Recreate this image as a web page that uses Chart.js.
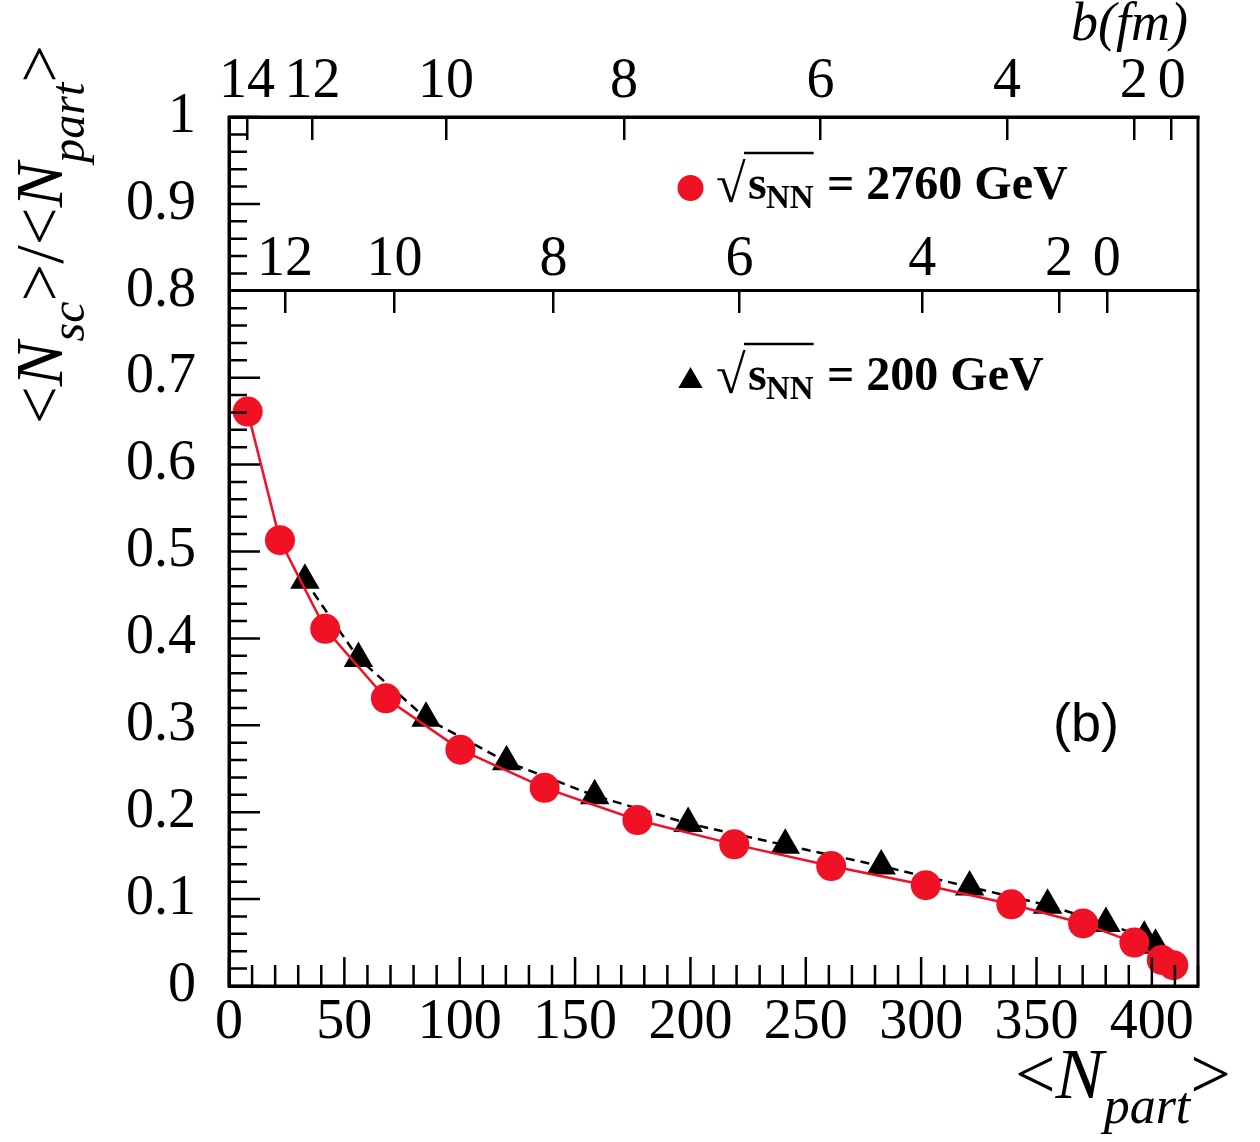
<!DOCTYPE html>
<html>
<head>
<meta charset="utf-8">
<title>Nsc / Npart versus Npart</title>
<script src="https://cdn.jsdelivr.net/npm/chart.js@4.4.1/dist/chart.umd.min.js"></script>
<style>
  html, body { margin: 0; padding: 0; background: #fff; }
  #wrap { width: 1260px; height: 1142px; }
</style>
</head>
<body>
<div id="wrap"><canvas id="myChart" width="1260" height="1142"></canvas></div>
<script>
// sqrt(s_NN) = 2760 GeV (red circles, solid line)
var npart2760 = [8.1, 22.1, 41.7, 68.0, 100.3, 136.8, 177.0, 219.0, 261.0, 302.0, 339.1, 370.2, 392.4, 404.3, 409.3];
var ratio2760 = [0.661, 0.513, 0.411, 0.331, 0.272, 0.228, 0.191, 0.163, 0.138, 0.116, 0.094, 0.072, 0.050, 0.030, 0.024];

// sqrt(s_NN) = 200 GeV (black triangles, dashed line)
var npart200 = [32.9, 56.1, 85.4, 120.3, 158.5, 199.0, 241.1, 282.7, 321.0, 354.8, 380.1, 396.7, 401.6];
var ratio200 = [0.467, 0.377, 0.308, 0.258, 0.219, 0.187, 0.162, 0.138, 0.114, 0.093, 0.072, 0.056, 0.047];

// impact parameter b (fm) axes and where they sit in Npart
var bTicks2760 = [14, 12, 10, 8, 6, 4, 2, 0];
var bNpart2760 = [7.8, 36.2, 94.1, 171.2, 256.4, 337.2, 392.2, 408.6];
var bTicks200 = [12, 10, 8, 6, 4, 2, 0];
var bNpart200 = [24.3, 71.7, 140.7, 221.3, 300.5, 359.7, 380.5];

var red = 'rgb(240,17,36)';
var serif = "'Liberation Serif', 'Times New Roman', serif";
var tickFont = { family: serif, size: 56 };

function drawRuns(ctx, x, y, runs) {
    runs.forEach(function (r) {
        ctx.font = r.font;
        ctx.fillText(r.t, x, y + (r.dy || 0));
        x += ctx.measureText(r.t).width;
    });
    return x;
}

function sqrtLabel(ctx, y, energy) {
    ctx.font = '54px ' + serif;
    ctx.fillText('\u221A', 716, y + 3);
    ctx.font = 'bold 48px ' + serif;
    ctx.fillText('s', 748, y);
    ctx.font = 'bold 33px ' + serif;
    ctx.fillText('NN', 766, y + 9);
    var endNN = 766 + ctx.measureText('NN').width;
    ctx.lineWidth = 2.5;
    ctx.beginPath();
    ctx.moveTo(744, y - 46);
    ctx.lineTo(endNN, y - 46);
    ctx.stroke();
    ctx.font = 'bold 48px ' + serif;
    ctx.fillText('= ' + energy + ' GeV', 827, y);
}

// inward ROOT style ticks, frame, titles and legend
var rootFrame = {
    id: 'rootFrame',
    afterDraw: function (chart) {
        var ctx = chart.ctx, a = chart.chartArea;
        var xs = chart.scales.x, ys = chart.scales.y;
        ctx.save();
        ctx.strokeStyle = '#000';
        ctx.fillStyle = '#000';
        ctx.lineWidth = 2.5;
        ctx.beginPath();
        ys.ticks.forEach(function (t) {
            var py = ys.getPixelForValue(t.value);
            var major = Math.round(t.value * 50) % 5 === 0;
            ctx.moveTo(a.left, py);
            ctx.lineTo(a.left + (major ? 31 : 18), py);
        });
        xs.ticks.forEach(function (t) {
            var px = xs.getPixelForValue(t.value);
            var major = Math.round(t.value) % 50 === 0;
            ctx.moveTo(px, a.bottom);
            ctx.lineTo(px, a.bottom - (major ? 29 : 21));
        });
        ctx.stroke();
        ctx.lineWidth = 3;
        ctx.strokeRect(a.left, a.top, a.right - a.left, a.bottom - a.top);

        ctx.textAlign = 'left';
        ctx.textBaseline = 'alphabetic';

        // x title <N_part>
        drawRuns(ctx, 1015, 1098, [
            { t: '<', font: '72px ' + serif },
            { t: 'N', font: 'italic 72px ' + serif },
            { t: 'part', font: 'italic 52px ' + serif, dy: 25 },
            { t: '>', font: '72px ' + serif }
        ]);

        // y title <N_sc>/<N_part>
        ctx.save();
        ctx.translate(62, 424);
        ctx.rotate(-Math.PI / 2);
        drawRuns(ctx, 0, 0, [
            { t: '<', font: '67px ' + serif },
            { t: 'N', font: 'italic 67px ' + serif },
            { t: 'sc', font: 'italic 48px ' + serif, dy: 22 },
            { t: '>/<', font: '67px ' + serif },
            { t: 'N', font: 'italic 67px ' + serif },
            { t: 'part', font: 'italic 48px ' + serif, dy: 22 },
            { t: '>', font: '67px ' + serif }
        ]);
        ctx.restore();

        // b(fm) label
        ctx.textAlign = 'right';
        ctx.font = 'italic 54px ' + serif;
        ctx.fillText('b(fm)', 1188, 40);
        ctx.textAlign = 'left';

        // legend
        ctx.fillStyle = red;
        ctx.beginPath();
        ctx.arc(690.5, 188, 13, 0, Math.PI * 2);
        ctx.fill();
        ctx.fillStyle = '#000';
        sqrtLabel(ctx, 199, '2760');

        var tr = 14;
        ctx.beginPath();
        ctx.moveTo(690.5, 381 - tr);
        ctx.lineTo(690.5 + tr * 0.866, 381 + tr / 2);
        ctx.lineTo(690.5 - tr * 0.866, 381 + tr / 2);
        ctx.closePath();
        ctx.fill();
        sqrtLabel(ctx, 390, '200');

        // panel tag
        ctx.font = "54px 'Liberation Sans', Arial, sans-serif";
        ctx.fillText('(b)', 1053, 741);
        ctx.restore();
    }
};

function bAxis(yValue, npart, labels, pad) {
    return {
        type: 'linear',
        axis: 'x',
        position: { y: yValue },
        min: 0,
        max: 420,
        afterBuildTicks: function (s) {
            s.ticks = npart.map(function (v) { return { value: v }; });
        },
        grid: { display: true, drawOnChartArea: false, drawTicks: true, tickLength: 21, tickWidth: 2.5, tickColor: '#000', lineWidth: 2.5, color: '#000' },
        border: { display: true, color: '#000', width: 3 },
        ticks: {
            autoSkip: false, maxRotation: 0, minRotation: 0, mirror: true, padding: pad,
            color: '#000', font: tickFont,
            callback: function (v, i) { return String(labels[i]); }
        }
    };
}

var ctx = document.getElementById('myChart').getContext('2d');
var myChart = new Chart(ctx, {
    type: 'scatter',
    data: {
        datasets: [{
            label: '2760 GeV',
            data: npart2760.map(function (v, i) { return { x: v, y: ratio2760[i] }; }),
            showLine: true,
            borderColor: red,
            borderWidth: 2.5,
            pointStyle: 'circle',
            pointRadius: 15,
            pointBackgroundColor: red,
            pointBorderWidth: 0
        }, {
            label: '200 GeV',
            data: npart200.map(function (v, i) { return { x: v, y: ratio200[i] }; }),
            showLine: true,
            borderColor: '#000',
            borderWidth: 2.5,
            borderDash: [9, 6],
            pointStyle: 'triangle',
            pointRadius: 17,
            pointBackgroundColor: '#000',
            pointBorderWidth: 0
        }]
    },
    options: {
        responsive: false,
        animation: false,
        layout: { padding: { top: 117, right: 62, left: 0, bottom: 0 } },
        plugins: { legend: { display: false }, tooltip: { enabled: false } },
        scales: {
            x: {
                type: 'linear', position: 'bottom', min: 0, max: 420,
                afterFit: function (s) { s.height = 156; },
                grid: { display: false },
                border: { display: true, color: '#000', width: 3 },
                ticks: {
                    stepSize: 10, autoSkip: false, maxRotation: 0, minRotation: 0, padding: -4,
                    color: '#000', font: tickFont,
                    callback: function (v) { var k = Math.round(v); return k % 50 === 0 ? String(k) : ''; }
                }
            },
            y: {
                type: 'linear', position: 'left', min: 0, max: 1,
                afterFit: function (s) { s.width = 229; },
                grid: { display: false },
                border: { display: true, color: '#000', width: 3 },
                ticks: {
                    stepSize: 0.02, autoSkip: false, padding: 25,
                    color: '#000', font: tickFont,
                    callback: function (v) { var k = Math.round(v * 50); return k % 5 === 0 ? String(k / 50) : ''; }
                }
            },
            bTop: bAxis(1, bNpart2760, bTicks2760, -22),
            bMid: bAxis(0.8, bNpart200, bTicks200, -18)
        }
    },
    plugins: [rootFrame]
});
</script>
</body>
</html>
